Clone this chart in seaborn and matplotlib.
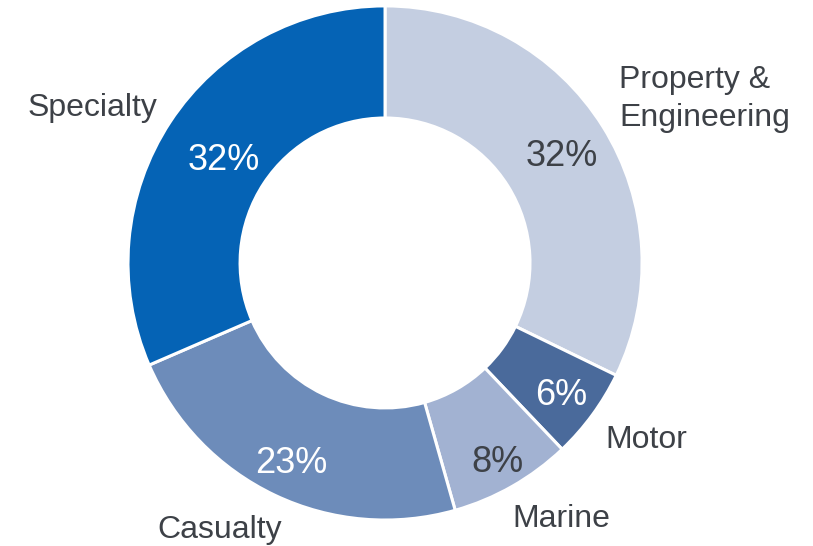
import numpy as np
import seaborn as sns
import matplotlib.pyplot as plt
import matplotlib.transforms as mtransforms

sns.set_theme(style="white")
plt.rcParams['font.family'] = ['Liberation Sans', 'DejaVu Sans']

# data (clockwise from the top)
categories = ["Property &\nEngineering", "Motor", "Marine", "Casualty", "Specialty"]
shares = [32.2, 5.7, 7.7, 22.9, 31.5]
pct_labels = ["32%", "6%", "8%", "23%", "32%"]
colors = ["#C4CEE1", "#4A6A9B", "#A2B2D2", "#6D8CBA", "#0563B5"]
pct_colors = ["#3D4147", "white", "#3D4147", "white", "white"]

# label placement tweaks (radius as fraction of pie radius, angle shift in degrees)
pct_radius = [0.81, 0.85, 0.88, 0.85, 0.75]
label_radius = [1.12, 1.09, 1.10, 1.10, 1.08]
label_shift = [3.5, -2, -3, 4, -1.5]

fig = plt.figure(figsize=(8.13, 5.46), dpi=100)
ax = fig.add_axes([0, 0, 1, 1])

labels_iter = iter(pct_labels)
wedges, texts, autotexts = ax.pie(
    shares, labels=categories, colors=colors,
    startangle=90, counterclock=False,
    autopct=lambda p: next(labels_iter),
    pctdistance=0.8, labeldistance=1.1,
    wedgeprops=dict(width=0.436, edgecolor="white", linewidth=2.2),
    textprops=dict(fontsize=23, color="#3D4147"),
)
# nudge text down a few pixels
down = ax.transData + mtransforms.ScaledTranslation(0, -0.035, fig.dpi_scale_trans)
for w, t, at, c, pr, lr, ls in zip(wedges, texts, autotexts, pct_colors,
                                   pct_radius, label_radius, label_shift):
    mid = np.deg2rad((w.theta1 + w.theta2) / 2)
    at.set_position((pr * np.cos(mid), pr * np.sin(mid)))
    at.set_color(c)
    at.set_fontsize(26)
    at.set_transform(down)
    la = mid + np.deg2rad(ls)
    t.set_position((lr * np.cos(la), lr * np.sin(la)))
    t.set_linespacing(1.35)
    t.set_transform(down)

ax.set_aspect("auto")
ax.set_xlim(-1.498, 1.665)
ax.set_ylim(-1.101, 1.023)

fig.savefig("out.png", dpi=100)
